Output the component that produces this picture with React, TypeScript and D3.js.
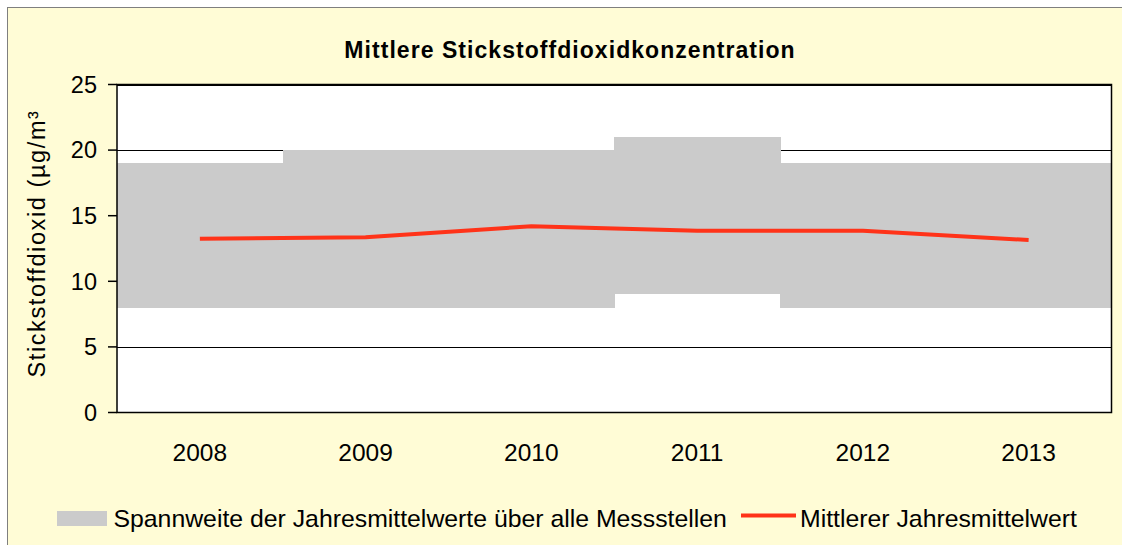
import React from "react";
import * as d3 from "d3";

const years = ["2008", "2009", "2010", "2011", "2012", "2013"];
const rangeMin = [8, 8, 8, 9, 8, 8];
const rangeMax = [19, 20, 20, 21, 19, 19];
const meanValues = [13.25, 13.35, 14.2, 13.85, 13.85, 13.15];
const yTicks = [0, 5, 10, 15, 20, 25];

const title = "Mittlere Stickstoffdioxidkonzentration";
const yLabel = "Stickstoffdioxid (µg/m³";
const legendRange = "Spannweite der Jahresmittelwerte über alle Messstellen";
const legendMean = "Mittlerer Jahresmittelwert";

const W = 1122;
const H = 545;
const plot = { left: 117, right: 1111.5, top: 84.5, bottom: 412.5 };
const font = "Arial, 'Liberation Sans', sans-serif";

export default function App() {
  const x = d3.scaleBand<string>().domain(years).range([plot.left, plot.right]).padding(0);
  const y = d3.scaleLinear().domain([0, 25]).range([plot.bottom, plot.top]);
  const line = d3
    .line<number>()
    .x((_, i) => (x(years[i]) as number) + x.bandwidth() / 2)
    .y((d) => y(d));

  return (
    <svg
      width={W}
      height={H}
      style={{ position: "absolute", left: 0, top: 0, display: "block" }}
      fontFamily={font}
    >
      <rect x={7.5} y={7.5} width={W + 20} height={H + 20} fill="#FFFCD6" stroke="#7f7f7f" strokeWidth={1} />
      <text x={570} y={58} textAnchor="middle" fontSize={23} fontWeight="bold" letterSpacing={1.05} fill="#000">
        {title}
      </text>
      <rect x={plot.left} y={plot.top} width={plot.right - plot.left} height={plot.bottom - plot.top} fill="#fff" />
      {yTicks.filter((t) => t > 0).map((t) => (
        <line
          key={"g" + t}
          x1={plot.left}
          x2={plot.right}
          y1={Math.round(y(t)) + 0.5}
          y2={Math.round(y(t)) + 0.5}
          stroke="#000"
          strokeWidth={1}
          shapeRendering="crispEdges"
        />
      ))}
      {years.map((yr, i) => (
        <rect
          key={"b" + yr}
          x={x(yr)}
          y={Math.round(y(rangeMax[i]))}
          width={x.bandwidth() + 0.6}
          height={Math.round(y(rangeMin[i])) - Math.round(y(rangeMax[i]))}
          fill="#CBCBCB"
          shapeRendering="crispEdges"
        />
      ))}
      <path d={line(meanValues) || ""} fill="none" stroke="#FF3319" strokeWidth={4} strokeLinejoin="round" />
      <rect
        x={plot.left}
        y={plot.top}
        width={plot.right - plot.left}
        height={plot.bottom - plot.top}
        fill="none"
        stroke="#000"
        strokeWidth={1.5}
      />
      {yTicks.map((t) => (
        <g key={"t" + t}>
          <line x1={plot.left - 9} x2={plot.left} y1={y(t)} y2={y(t)} stroke="#000" strokeWidth={1.5} />
          <text x={97} y={y(t)} dy="0.35em" textAnchor="end" fontSize={23.5} fill="#000">
            {t}
          </text>
        </g>
      ))}
      {years.map((yr) => (
        <text
          key={"x" + yr}
          x={(x(yr) as number) + x.bandwidth() / 2}
          y={461}
          textAnchor="middle"
          fontSize={24.5}
          fill="#000"
        >
          {yr}
        </text>
      ))}
      <text
        transform={`translate(45,${(380 + 107) / 2}) rotate(-90)`}
        textAnchor="middle"
        fontSize={23.5}
        letterSpacing={1.6}
        fill="#000"
      >
        {yLabel}
      </text>
      <rect x={57} y={511} width={50} height={15} fill="#CBCBCB" />
      <text x={113.5} y={527} fontSize={24.8} fill="#000">
        {legendRange}
      </text>
      <line x1={741} x2={796} y1={515.5} y2={515.5} stroke="#FF3319" strokeWidth={4} />
      <text x={800} y={527} fontSize={24.8} fill="#000">
        {legendMean}
      </text>
    </svg>
  );
}
